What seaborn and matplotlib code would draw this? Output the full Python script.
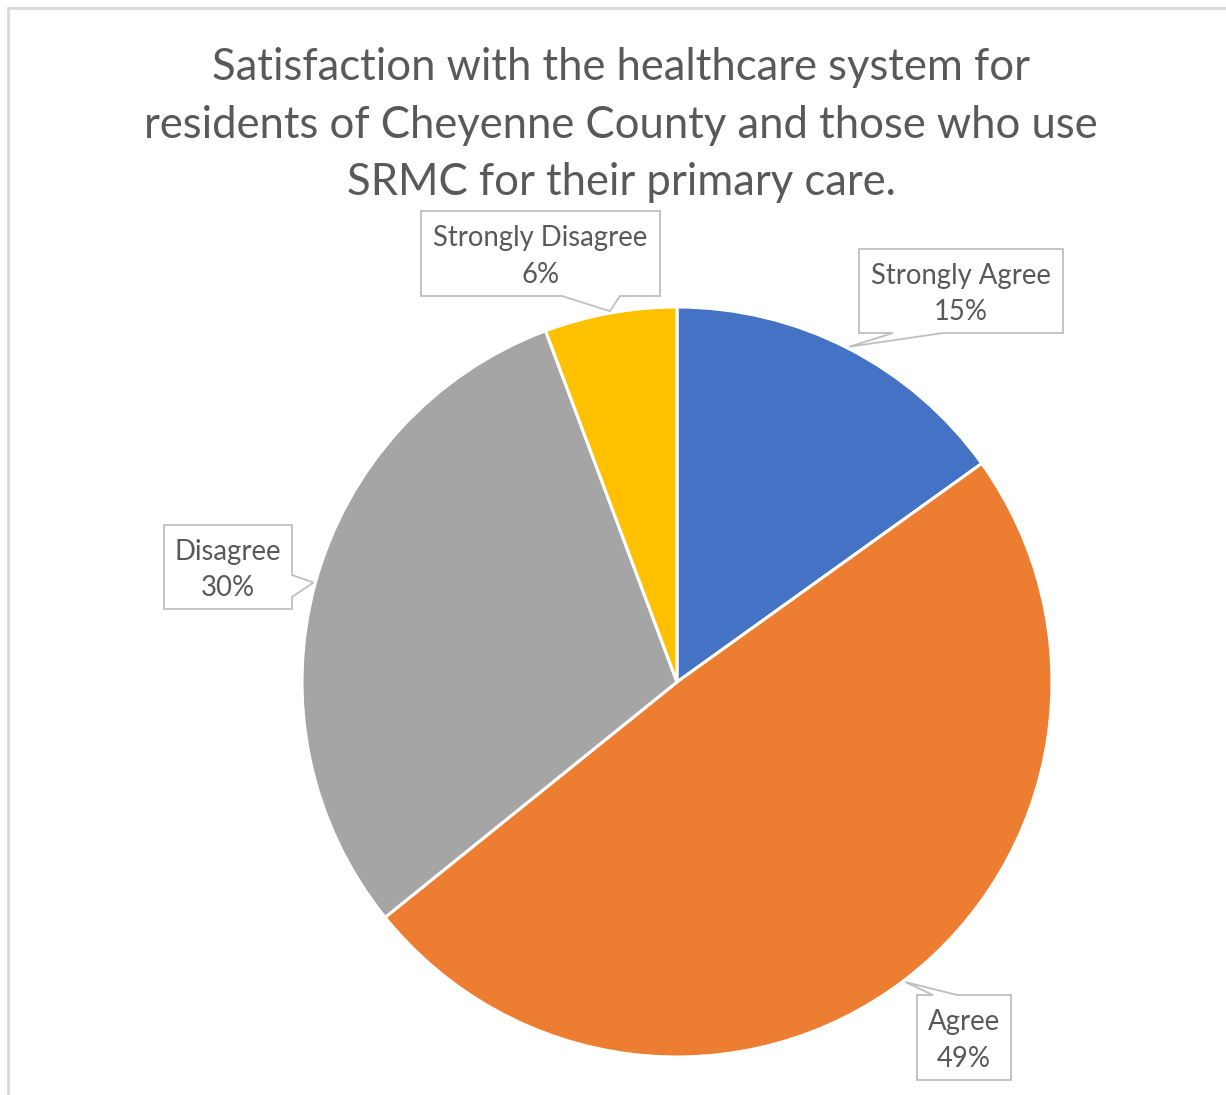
import numpy as np
import seaborn as sns
import matplotlib.pyplot as plt
from matplotlib.patches import Polygon, Rectangle

# survey answers, share of respondents (%)
categories = ['Strongly Agree', 'Agree', 'Disagree', 'Strongly Disagree']
shares = [15.1, 49.1, 30.1, 5.7]
pct_labels = ['15%', '49%', '30%', '6%']
slice_colors = ['#4472C4', '#ED7D31', '#A5A5A5', '#FFC000']

title = ('Satisfaction with the healthcare system for\n'
         'residents of Cheyenne County and those who use\n'
         'SRMC for their primary care.')

sns.set_theme(style='white')
plt.rcParams['font.family'] = ['Lato', 'DejaVu Sans']

W, H = 1226, 1095
fig = plt.figure(figsize=(W / 100, H / 100), dpi=100)
ax = fig.add_axes([0, 0, 1, 1])

# chart frame (only top and left show in the crop)
fig.patches.append(Rectangle((8 / W, -0.1), 1.2, (H - 8) / H + 0.1, transform=fig.transFigure,
                             fill=False, edgecolor='#d9d9d9', linewidth=2))

cx, cy, R = 677, H - 682, 375
wedges, _ = ax.pie(shares, colors=sns.color_palette(slice_colors), startangle=90, counterclock=False,
                   center=(cx, cy), radius=R, frame=True,
                   wedgeprops=dict(edgecolor='white', linewidth=2.2))
ax.set_xlim(0, W)
ax.set_ylim(0, H)
ax.set_aspect('equal')
ax.axis('off')

ax.text(621, H - 125, title, ha='center', va='center', fontsize=31.4, color='#595959', linespacing=1.5)

# callout boxes: (x0, y0, x1, y1) in image pixels, pointer side, pointer base span
boxes = [
    ((859, 249, 1063, 333), 'bottom', (893, 943)),
    ((917, 995, 1011, 1080), 'top', (933, 957)),
    ((164, 525, 292, 609), 'right', (575, 597)),
    ((421, 211, 660, 296), 'bottom', (562, 620)),
]

for w, cat, pct, (bx, side, base) in zip(wedges, categories, pct_labels, boxes):
    mid = np.deg2rad((w.theta1 + w.theta2) / 2)
    tip = (cx + R * 1.005 * np.cos(mid), cy + R * 1.005 * np.sin(mid))
    x0, y0, x1, y1 = bx
    y0, y1 = H - y0, H - y1  # y0 top, y1 bottom
    tl, tr, br, bl = (x0, y0), (x1, y0), (x1, y1), (x0, y1)
    if side == 'bottom':
        pts = [tl, tr, br, (base[1], y1), tip, (base[0], y1), bl]
    elif side == 'top':
        pts = [tl, (base[0], y0), tip, (base[1], y0), tr, br, bl]
    else:
        pts = [tl, tr, (x1, H - base[0]), tip, (x1, H - base[1]), br, bl]
    ax.add_patch(Polygon(pts, closed=True, facecolor='white', edgecolor='#bfbfbf', linewidth=1.3, zorder=5))
    ax.text((x0 + x1) / 2, (y0 + y1) / 2 - 3, f'{cat}\n{pct}', ha='center', va='center',
            fontsize=19.8, color='#595959', linespacing=1.5, zorder=6)

fig.savefig('out.png', dpi=100)
